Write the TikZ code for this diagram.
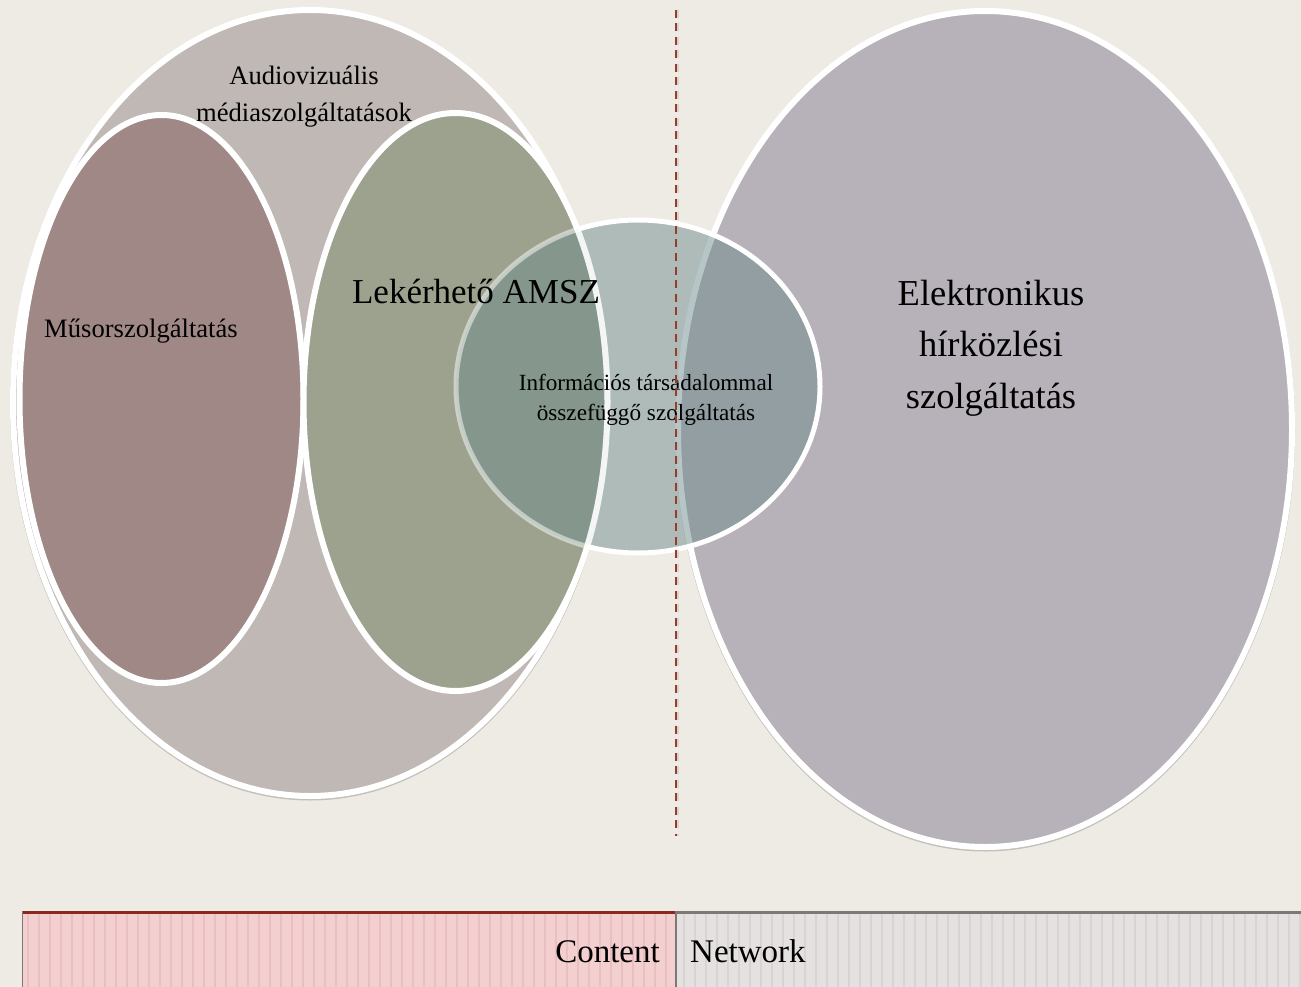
\documentclass[tikz,border=0pt]{standalone}
\usepackage{fontspec}
\setmainfont{Liberation Serif}
\usetikzlibrary{shapes.geometric}
\definecolor{bg}{RGB}{238,235,228}
\definecolor{amsC}{RGB}{191,184,181}
\definecolor{musC}{RGB}{159,136,134}
\definecolor{lekC}{RGB}{156,162,142}
\definecolor{elkC}{RGB}{183,177,185}
\definecolor{infC}{RGB}{111,141,141}
\definecolor{dashC}{RGB}{150,60,42}
\definecolor{pinkC}{RGB}{243,207,207}
\definecolor{pinkS}{RGB}{232,192,192}
\definecolor{grayC}{RGB}{230,225,225}
\definecolor{grayS}{RGB}{217,211,211}
\definecolor{redB}{RGB}{140,40,30}
\definecolor{grayB}{RGB}{125,120,118}
\newcommand\mylines[1]{\begin{tabular}[t]{@{}c@{}}#1\end{tabular}}
\begin{document}
\begin{tikzpicture}[x=1pt,y=-1pt,
  blob/.style={ellipse, draw=white, line width=6pt, inner sep=0pt},
  shade/.style={fill=black, fill opacity=0.18},
  lbl/.style={inner sep=0pt, anchor=base, text=black},
  whiteline/.style={draw=white, line width=#1},
]
\useasboundingbox (0,0) rectangle (1301,987);
\fill[bg] (0,0) rectangle (1301,987);

% soft shadows of the two outer shapes
\fill[shade] (310,404.5) ellipse [x radius=300pt, y radius=396pt];
\fill[shade] (985,430.5) ellipse [x radius=310pt, y radius=421pt];

% ellipses
\node[blob, fill=amsC, minimum width=594pt, minimum height=786pt] (ams) at (310,403) {};
\node[blob, fill=musC, minimum width=284pt, minimum height=568pt] (mus) at (161.5,399) {};
\node[blob, fill=lekC, minimum width=304pt, minimum height=578pt] (lek) at (455.5,402) {};
\node[blob, fill=elkC, minimum width=614pt, minimum height=836pt] (elk) at (985,429) {};
\node[ellipse, inner sep=0pt, fill=infC, fill opacity=0.5, minimum width=364pt, minimum height=333pt] (inf) at (638,386.5) {};

% borders over the translucent circle
\begin{scope}
  \clip (inf.center) ellipse [x radius=182pt, y radius=166.5pt];
  \draw[whiteline=6pt, draw opacity=0.85] (lek.center) ellipse [x radius=152pt, y radius=289pt];
\end{scope}
\begin{scope}
  \clip (lek.center) ellipse [x radius=152pt, y radius=289pt];
  \draw[whiteline=5pt, draw opacity=0.5] (inf.center) ellipse [x radius=182pt, y radius=166.5pt];
\end{scope}
\begin{scope}[even odd rule]
  \clip (0,0) rectangle (1301,987) (lek.center) ellipse [x radius=152pt, y radius=289pt];
  \draw[whiteline=5pt] (inf.center) ellipse [x radius=182pt, y radius=166.5pt];
\end{scope}

% labels
\node[lbl, font=\fontsize{26.6}{37}\selectfont] (tams) at (304,85) {\mylines{Audiovizuális\\médiaszolgáltatások}};
\node[lbl, font=\fontsize{26.6}{32}\selectfont] (tmus) at (141,337) {Műsorszolgáltatás};
\node[lbl, font=\fontsize{35}{42}\selectfont] (tlek) at (476,303) {Lekérhető AMSZ};
\node[lbl, font=\fontsize{23.2}{30}\selectfont] (tinf) at (646,390) {\mylines{Információs társadalommal\\összefüggő szolgáltatás}};
\node[lbl, font=\fontsize{36.5}{51.5}\selectfont] (telk) at (991,305) {\mylines{Elektronikus\\hírközlési\\szolgáltatás}};

% dashed divider
\coordinate (dtop) at (676,10);
\coordinate (dbot) at (676,836);
\draw[black!30, line width=2pt, dash pattern=on 8pt off 5.5pt, opacity=0.4] ([xshift=2pt]dtop) -- ([xshift=2pt]dbot);
\draw[dashC, line width=2.2pt, dash pattern=on 8pt off 5.5pt] (dtop) -- (dbot);

% bottom bar
\fill[pinkC] (22,911) rectangle (676,987);
\foreach \x in {28,39,...,670} \draw[pinkS, line width=1.2pt] (\x,913) -- (\x,987);
\fill[grayC] (676,911) rectangle (1301,987);
\foreach \x in {684,695,...,1300} \draw[grayS, line width=1.2pt] (\x,913) -- (\x,987);
\draw[redB, line width=3pt] (22,912.5) -- (676,912.5);
\draw[grayB, line width=3pt] (676,912.5) -- (1301,912.5);
\draw[grayB, line width=1pt] (22.5,911) -- (22.5,987);
\draw[grayB, line width=1.5pt] (676,911) -- (676,987);
\node[lbl, anchor=base east, font=\fontsize{33}{40}\selectfont] (tcon) at (660,962) {Content};
\node[lbl, anchor=base west, font=\fontsize{33}{40}\selectfont] (tnet) at (690,962) {Network};
\end{tikzpicture}
\end{document}
